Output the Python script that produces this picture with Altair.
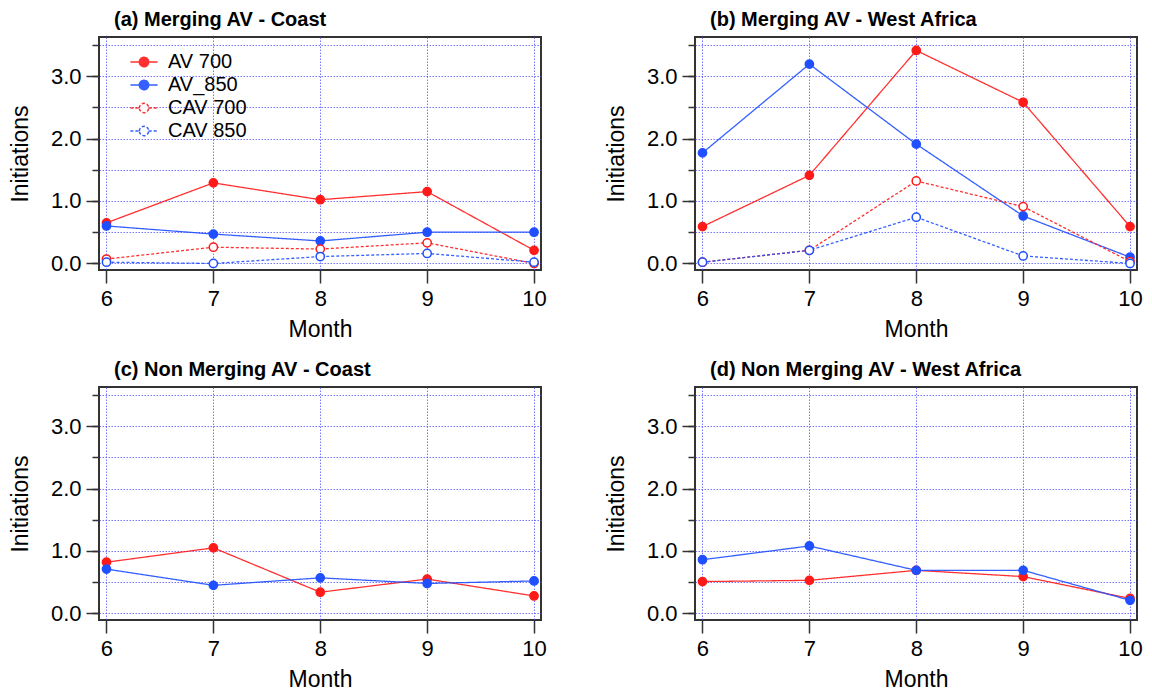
import altair as alt
import pandas as pd

# ---- data ----
months = [6, 7, 8, 9, 10]
series_names = ["AV 700", "AV_850", "CAV 700", "CAV 850"]
panel_titles = [
    "(a) Merging AV - Coast",
    "(b) Merging AV - West Africa",
    "(c) Non Merging AV - Coast",
    "(d) Non Merging AV - West Africa",
]

a_av700 = [0.65, 1.29, 1.02, 1.15, 0.21]
a_av850 = [0.60, 0.47, 0.36, 0.50, 0.50]
a_cav700 = [0.07, 0.26, 0.23, 0.33, 0.00]
a_cav850 = [0.02, 0.00, 0.11, 0.16, 0.02]

b_av700 = [0.59, 1.41, 3.41, 2.58, 0.59]
b_av850 = [1.77, 3.19, 1.91, 0.76, 0.10]
b_cav700 = [0.02, 0.21, 1.32, 0.91, 0.03]
b_cav850 = [0.02, 0.21, 0.74, 0.12, 0.00]

c_av700 = [0.82, 1.05, 0.34, 0.55, 0.28]
c_av850 = [0.71, 0.45, 0.57, 0.48, 0.52]

d_av700 = [0.51, 0.53, 0.69, 0.59, 0.24]
d_av850 = [0.86, 1.08, 0.69, 0.69, 0.21]

y_major = [0, 1, 2, 3]
y_minor = [0, 0.5, 1, 1.5, 2, 2.5, 3, 3.5]

# ---- styles ----
FONT = "Liberation Sans"
stroke_range = ["#ff1a1a", "#1f4fff", "#ff1a1a", "#1f4fff"]
fill_range = ["#ff1a1a", "#1f4fff", "white", "white"]
dash_range = [[1, 0], [1, 0], [3, 2], [3, 2]]
LEG_PATH = ("M-1.6,0H-0.55M0.55,0H1.6M-0.55,0A0.55,0.55,0,1,1,0.55,0"
            "A0.55,0.55,0,1,1,-0.55,0Z")
W, H = 442, 233


def frame(series_lists):
    rows = []
    for name, vals in series_lists:
        for m, v in zip(months, vals):
            rows.append({"month": m, "value": v, "series": name})
    return pd.DataFrame(rows)


def panel(df, title, show_legend):
    xs = alt.Scale(domain=[5.93, 10.065], nice=False, zero=False)
    ys = alt.Scale(domain=[-0.105, 3.625], nice=False, zero=False)
    xaxis = alt.Axis(values=months, tickSize=13, labelPadding=5, title="Month",
                     grid=True, titlePadding=9, format="d")
    yaxis_major = alt.Axis(values=y_major, tickSize=13, format=".1f", grid=False,
                           title="Initiations", orient="left", labelPadding=5,
                           titlePadding=18)
    yaxis_minor = alt.Axis(values=y_minor, tickSize=7, labels=False, grid=True,
                           title=None, orient="left")
    if show_legend:
        leg = alt.Legend(title=None, orient="none", legendX=35, legendY=15,
                         symbolType=LEG_PATH, symbolSize=289, symbolStrokeWidth=1.5,
                         labelFontSize=20, labelFont=FONT, labelColor="black",
                         labelOffset=14, rowPadding=3, padding=0)
    else:
        leg = None
    sc_stroke = alt.Scale(domain=series_names, range=stroke_range)
    sc_fill = alt.Scale(domain=series_names, range=fill_range)
    sc_dash = alt.Scale(domain=series_names, range=dash_range)
    base = alt.Chart(df)
    lines = base.mark_line(strokeWidth=1.3, opacity=0.9).encode(
        x=alt.X("month:Q", scale=xs, axis=xaxis),
        y=alt.Y("value:Q", scale=ys, axis=yaxis_major),
        stroke=alt.Stroke("series:N", scale=sc_stroke, legend=leg),
        strokeDash=alt.StrokeDash("series:N", scale=sc_dash, legend=leg),
        detail="series:N",
    )
    pts = base.mark_point(shape="circle", size=68, strokeWidth=1.5, opacity=1,
                          fillOpacity=1).encode(
        x=alt.X("month:Q", scale=xs, axis=xaxis),
        y=alt.Y("value:Q", scale=ys, axis=yaxis_minor),
        stroke=alt.Stroke("series:N", scale=sc_stroke, legend=leg),
        fill=alt.Fill("series:N", scale=sc_fill, legend=leg),
    )
    return alt.layer(lines, pts).resolve_axis(y="independent").properties(
        width=W, height=H,
        title=alt.TitleParams(title, anchor="start", dx=15, fontSize=20,
                              fontWeight="bold", font=FONT, color="black",
                              offset=7, frame="group"),
    )


pa = panel(frame([("AV 700", a_av700), ("AV_850", a_av850),
                  ("CAV 700", a_cav700), ("CAV 850", a_cav850)]), panel_titles[0], True)
pb = panel(frame([("AV 700", b_av700), ("AV_850", b_av850),
                  ("CAV 700", b_cav700), ("CAV 850", b_cav850)]), panel_titles[1], False)
pc = panel(frame([("AV 700", c_av700), ("AV_850", c_av850)]), panel_titles[2], False)
pd_ = panel(frame([("AV 700", d_av700), ("AV_850", d_av850)]), panel_titles[3], False)

chart = alt.concat(pa, pb, pc, pd_, columns=2, spacing={"row": 17, "column": 56}).resolve_scale(
    stroke="independent", fill="independent", strokeDash="independent"
).resolve_legend(
    stroke="independent", fill="independent", strokeDash="independent"
).properties(
    padding={"left": 0, "top": 1, "right": 0, "bottom": 0}
).configure_view(
    stroke="#333333", strokeWidth=2
).configure_axis(
    domain=False, tickColor="#333333", tickWidth=1.5,
    labelFont=FONT, labelFontSize=22, labelColor="black",
    titleFont=FONT, titleFontSize=23, titleFontWeight="normal", titleColor="black",
    gridColor="#4a4aff", gridDash=[1.5, 1.5], gridWidth=1, gridOpacity=0.75,
)

chart.save("out.html", embed_options={"renderer": "svg", "actions": False})
